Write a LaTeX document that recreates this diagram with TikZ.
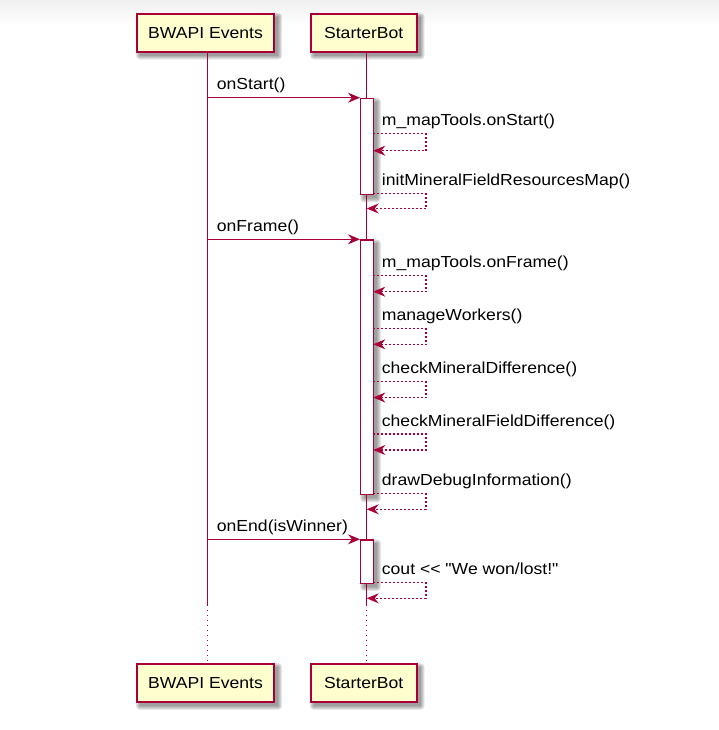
\documentclass[tikz,border=0pt]{standalone}
\usepackage{fontspec}
\usepackage{graphicx}
\newfontfamily\arial{Liberation Sans}
\usetikzlibrary{arrows.meta,calc,backgrounds}
\definecolor{pborder}{HTML}{A80036}
\definecolor{pfill}{HTML}{FEFECE}
\newcommand{\wt}[1]{\scalebox{1.1}[1]{#1}}
\newcommand{\fshadow}[1]{%
  \begin{pgfonlayer}{background}
  \foreach \r in {0,1,2,3,4}{%
    \fill[black, opacity=0.09, rounded corners=\r pt]
      ($(#1.north west)+(4-\r,4-\r)$) rectangle ($(#1.south east)+(3+\r,3+\r)$);
  }
  \end{pgfonlayer}}
\begin{document}
\begin{tikzpicture}[x=1pt,y=-1pt,
  part/.style={draw=pborder, line width=1.8pt, fill=pfill, minimum height=38pt, inner sep=0pt, font=\arial\fontsize{16}{19}\selectfont},
  act/.style={draw=pborder, line width=1.4pt, fill=white, minimum width=12.6pt, inner sep=0pt, anchor=north},
  life/.style={draw=pborder, line width=1.1pt},
  lifedot/.style={life, dash pattern=on 1pt off 4pt},
  msg/.style={draw=pborder, line width=1.1pt, -{Stealth[length=12pt,width=10pt,inset=4pt]}},
  ret/.style={msg, dash pattern=on 2pt off 2pt},
  lbl/.style={anchor=base west, inner sep=0pt, font=\arial\fontsize{16}{19}\selectfont}
]
\useasboundingbox (0,0) rectangle (719,730);
\begin{pgfonlayer}{background}
\shade[top color=black!6, bottom color=white] (0,0) rectangle (719,26);
\end{pgfonlayer}

% lifelines
\coordinate (la1) at (207.7,52);
\coordinate (la2) at (207.7,605);
\coordinate (la3) at (207.7,664);
\coordinate (lb1) at (366.7,52);
\coordinate (lb2) at (366.7,605);
\coordinate (lb3) at (366.7,664);
\draw[life] (la1) -- (la2);
\draw[lifedot] (la2) -- (la3);
\draw[life] (lb1) -- (lb2);
\draw[lifedot] (lb2) -- (lb3);

% participants
\node[part, minimum width=137.6pt] (pa) at (205.5,32.7) {\wt{BWAPI Events}};
\node[part, minimum width=106pt] (pb) at (363.7,32.7) {\wt{StarterBot}};
\node[part, minimum width=137.6pt] (qa) at (205.5,683) {\wt{BWAPI Events}};
\node[part, minimum width=106pt] (qb) at (363.7,683) {\wt{StarterBot}};

% activations
\node[act, minimum height=96.3pt] (a1) at (367,97.7) {};
\node[act, minimum height=254.7pt] (a2) at (367,239.3) {};
\node[act, minimum height=43.4pt] (a3) at (367,539.3) {};

\fshadow{pa}\fshadow{pb}\fshadow{qa}\fshadow{qb}
\fshadow{a1}\fshadow{a2}\fshadow{a3}

% onStart
\coordinate (m1) at (207.7,97.7);
\draw[msg] (m1) -- (a1.north west);
\node[lbl] (t1) at (216.7,89.7) {\wt{onStart()}};

\coordinate (r1a) at (373.3,133.3);
\coordinate (r1b) at (426,133.3);
\coordinate (r1c) at (426,150.7);
\coordinate (r1d) at (373.3,150.7);
\draw[ret] (r1a) -- (r1b) -- (r1c) -- (r1d);
\node[lbl] (t2) at (381.7,125.3) {\wt{m\_mapTools.onStart()}};

\coordinate (r2a) at (373.3,193.7);
\coordinate (r2b) at (426,193.7);
\coordinate (r2c) at (426,208.5);
\coordinate (r2d) at (366.7,208.5);
\draw[ret] (r2a) -- (r2b) -- (r2c) -- (r2d);
\node[lbl] (t3) at (381.7,185.7) {\wt{initMineralFieldResourcesMap()}};

% onFrame
\coordinate (m2) at (207.7,239.3);
\draw[msg] (m2) -- (a2.north west);
\node[lbl] (t4) at (216.7,231.3) {\wt{onFrame()}};

\coordinate (r3a) at (373.3,275.7);
\coordinate (r3b) at (426,275.7);
\coordinate (r3c) at (426,291.7);
\coordinate (r3d) at (373.3,291.7);
\draw[ret] (r3a) -- (r3b) -- (r3c) -- (r3d);
\node[lbl] (t5) at (381.7,267.7) {\wt{m\_mapTools.onFrame()}};

\coordinate (r4a) at (373.3,328.3);
\coordinate (r4b) at (426,328.3);
\coordinate (r4c) at (426,344.3);
\coordinate (r4d) at (373.3,344.3);
\draw[ret] (r4a) -- (r4b) -- (r4c) -- (r4d);
\node[lbl] (t6) at (381.7,320.3) {\wt{manageWorkers()}};

\coordinate (r5a) at (373.3,381.7);
\coordinate (r5b) at (426,381.7);
\coordinate (r5c) at (426,397.5);
\coordinate (r5d) at (373.3,397.5);
\draw[ret] (r5a) -- (r5b) -- (r5c) -- (r5d);
\node[lbl] (t7) at (381.7,373.7) {\wt{checkMineralDifference()}};

\coordinate (r6a) at (373.3,434);
\coordinate (r6b) at (426,434);
\coordinate (r6c) at (426,450);
\coordinate (r6d) at (373.3,450);
\draw[ret] (r6a) -- (r6b) -- (r6c) -- (r6d);
\node[lbl] (t8) at (381.7,426) {\wt{checkMineralFieldDifference()}};

\coordinate (r7a) at (373.3,493.8);
\coordinate (r7b) at (426,493.8);
\coordinate (r7c) at (426,509.3);
\coordinate (r7d) at (366.7,509.3);
\draw[ret] (r7a) -- (r7b) -- (r7c) -- (r7d);
\node[lbl] (t9) at (381.7,485.8) {\wt{drawDebugInformation()}};

% onEnd
\coordinate (m3) at (207.7,539.3);
\draw[msg] (m3) -- (a3.north west);
\node[lbl] (t10) at (216.7,531.3) {\wt{onEnd(isWinner)}};

\coordinate (r8a) at (373.3,582.7);
\coordinate (r8b) at (426,582.7);
\coordinate (r8c) at (426,598.3);
\coordinate (r8d) at (366.7,598.3);
\draw[ret] (r8a) -- (r8b) -- (r8c) -- (r8d);
\node[lbl] (t11) at (381.7,574.7) {\wt{cout << "We won/lost!"}};
\end{tikzpicture}
\end{document}
